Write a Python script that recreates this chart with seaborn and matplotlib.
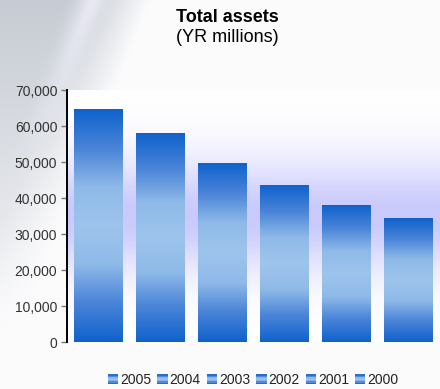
import numpy as np
import pandas as pd
import matplotlib
matplotlib.use("Agg")
import matplotlib.pyplot as plt
from matplotlib.colors import LinearSegmentedColormap
from matplotlib.patches import Rectangle
from matplotlib.legend_handler import HandlerBase
from matplotlib.ticker import FuncFormatter
import seaborn as sns

# Total assets by year (YR millions)
years = ["2005", "2004", "2003", "2002", "2001", "2000"]
assets = [64700, 57800, 49700, 43600, 37800, 34400]
y_ticks = [0, 10000, 20000, 30000, 40000, 50000, 60000, 70000]

sns.set_style("white")
plt.rcParams["font.family"] = ["Liberation Sans", "DejaVu Sans"]

W, H = 440, 389
fig = plt.figure(figsize=(W / 100, H / 100), dpi=100)
fig.patch.set_facecolor("#fbfbfb")

# soft grey swoosh in the upper-left corner of the canvas
bg = fig.add_axes([0, 0, 1, 1], zorder=-10)
px, py = np.meshgrid(np.arange(W), np.arange(H))
diag = px + 0.4 * py
grey_amt = np.clip((150 - diag) / 60, 0, 1) * np.clip(1 - py / 330, 0, 1) ** 0.8
streak = np.exp(-((diag - 92) / 14) ** 2) * np.clip(1 - py / 220, 0, 1)
base = np.array([0.985, 0.985, 0.99])
grey = np.array([0.78, 0.80, 0.83])
img = base * (1 - grey_amt[..., None]) + grey * grey_amt[..., None]
img = img + (np.array([0.93, 0.93, 0.97]) - img) * (streak[..., None] * 0.85)
bg.imshow(np.clip(img, 0, 1), extent=[0, 1, 0, 1], aspect="auto", origin="upper")
bg.set_axis_off()

ax = fig.add_axes([67 / W, 1 - 342 / H, 372 / W, 252 / H])
df = pd.DataFrame({"year": years, "assets": assets})
sns.barplot(data=df, x="year", y="assets", order=years, width=0.78,
            color="#1064d0", ax=ax, zorder=2)

ax.set_xlim(-0.5, len(years) - 0.5)
ax.set_ylim(0, 70000)
ax.set_yticks(y_ticks)
ax.yaxis.set_major_formatter(FuncFormatter(lambda v, p: f"{int(v):,}"))
ax.set_xticks([])
ax.set_xlabel("")
ax.set_ylabel("")

# plot-area background: white fading to lavender in the middle
band = np.linspace(0, 1, 256)
lav = np.exp(-((band - 0.50) / 0.22) ** 2)
white = np.array([1.0, 1.0, 1.0])
lavender = np.array([0.79, 0.79, 0.99])
bg_img = white[None, :] * (1 - lav[:, None]) + lavender[None, :] * lav[:, None]
ax.imshow(bg_img[:, None, :], extent=[-0.5, len(years) - 0.5, 0, 70000],
          aspect="auto", origin="upper", zorder=0)

# gradient fill for each bar: deep blue at the ends, pale blue in the middle
bar_cmap = LinearSegmentedColormap.from_list(
    "barfill", ["#0f62cc", "#4a84d8", "#8fbae8", "#9dc4ec", "#8fbae8", "#4a84d8", "#0f62cc"])
grad = np.linspace(0, 1, 256)[:, None]
for patch in ax.patches:
    x0, w, h = patch.get_x(), patch.get_width(), patch.get_height()
    patch.set_alpha(0)
    ax.imshow(grad, cmap=bar_cmap, extent=[x0, x0 + w, 0, h],
              aspect="auto", origin="upper", zorder=3)
ax.set_xlim(-0.5, len(years) - 0.5)
ax.set_ylim(0, 70000)

for side in ["top", "right", "bottom"]:
    ax.spines[side].set_visible(False)
ax.spines["left"].set_color("black")
ax.spines["left"].set_linewidth(1.4)
ax.tick_params(axis="y", direction="out", length=4, width=1, color="#777777",
               labelsize=10, labelcolor="#333333", pad=3, left=True)


class GradientSquare(HandlerBase):
    def create_artists(self, legend, orig_handle, xdescent, ydescent,
                       width, height, fontsize, trans):
        n = 8
        x0 = -xdescent
        y0 = -ydescent
        arts = []
        for i in range(n):
            c = bar_cmap((i + 0.5) / n)
            arts.append(Rectangle((x0, y0 + height - (i + 1) * height / n), width, height / n,
                                  facecolor=c, edgecolor="none", transform=trans))
        return arts


handles = [Rectangle((0, 0), 1, 1) for _ in years]
fig.legend(handles, years, handler_map={Rectangle: GradientSquare()},
           loc="center", bbox_to_anchor=(253 / W, 1 - 380 / H), ncol=len(years),
           frameon=False, fontsize=10, handlelength=0.75, handleheight=0.65,
           handletextpad=0.12, columnspacing=0.45, labelcolor="#222222")

fig.text(227 / W, 1 - 17 / H, "Total assets", ha="center", va="center",
         fontsize=13, fontweight="bold", color="black")
fig.text(227 / W, 1 - 38 / H, "(YR millions)", ha="center", va="center",
         fontsize=13, color="black")

fig.savefig("out.png", dpi=100, facecolor=fig.get_facecolor())
